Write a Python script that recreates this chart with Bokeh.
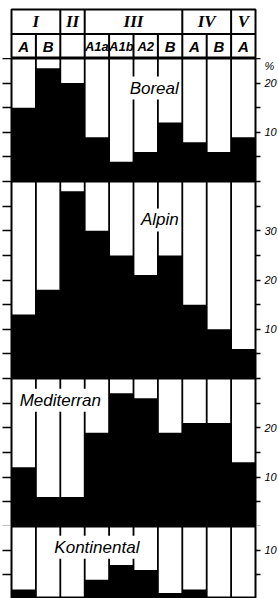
from bokeh.plotting import figure
from bokeh.layouts import column
from bokeh.models import Range1d, FixedTicker, LinearAxis, Label, ColumnDataSource
from bokeh.core.properties import value
from bokeh.embed import file_html
from bokeh.resources import INLINE

# ---- data ----
groups = ["I", "II", "III", "IV", "V"]
group_sizes = [2, 1, 4, 2, 1]
subcols = ["A", "B", "", "A1a", "A1b", "A2", "B", "A", "B", "A"]

boreal = [15, 23, 20, 9, 4, 6, 12, 8, 6, 9]
alpin = [13, 18, 38, 30, 25, 21, 25, 15, 10, 6]
mediterran = [12, 6, 6, 19, 27, 26, 19, 21, 21, 13]
kontinental = [2, 0, 0, 4, 7, 6, 1.3, 2, 0, 0]

panel_names = ["Boreal", "Alpin", "Mediterran", "Kontinental"]
panel_values = [boreal, alpin, mediterran, kontinental]
panel_ranges = [(0, 25), (0, 40), (0, 30), (0.2, 14.8)]
panel_heights = [123, 197, 148, 72]
label_pos = [(5.85, 19.0), (6.08, 32.2), (2.0, 25.6), (3.5, 10.6)]
tick_labels = [[10, 20], [10, 20, 30], [10, 20], [10]]
unit_label = "%"
unit_pos = 23.5

FW = 244
BL = 11
BR = 23
N = len(subcols)
xs = [i + 0.5 for i in range(N)]
inner_bounds = list(range(1, N))


def base_fig(yr, h, top=0):
    p = figure(x_range=Range1d(0, N), y_range=Range1d(*yr), frame_width=FW, frame_height=h,
               output_backend="svg", toolbar_location=None,
               min_border_left=BL, min_border_right=BR, min_border_top=top, min_border_bottom=0,
               x_axis_location=None, y_axis_location=None)
    p.grid.grid_line_color = None
    p.outline_line_color = "black"
    p.outline_line_width = 2
    p.background_fill_color = "white"
    p.border_fill_color = "white"
    return p


# ---- header ----
hdr = base_fig((0, 2), 49, top=9)
gb = []
acc = 0
gc = []
for s in group_sizes:
    gc.append(acc + s / 2)
    acc += s
    gb.append(acc)
group_bounds = gb[:-1]
sub_bounds = [b for b in inner_bounds if b not in group_bounds]
hdr.segment(x0=[0], y0=[1], x1=[N], y1=[1], line_color="black", line_width=2)
hdr.segment(x0=group_bounds, y0=[0] * len(group_bounds), x1=group_bounds, y1=[2] * len(group_bounds),
            line_color="black", line_width=2)
hdr.segment(x0=sub_bounds, y0=[0] * len(sub_bounds), x1=sub_bounds, y1=[1] * len(sub_bounds),
            line_color="black", line_width=2)
hdr.text(x=gc, y=[1.5] * len(gc), text=groups, text_align="center", text_baseline="middle",
         text_font=value("Liberation Serif"), text_font_style="bold italic", text_font_size="17px",
         text_color="black")
keep = [i for i, s in enumerate(subcols) if s]
hsrc = ColumnDataSource(dict(x=[xs[i] for i in keep], y=[0.5] * len(keep),
                             t=[subcols[i] for i in keep],
                             s=["13px" if len(subcols[i]) > 1 else "15px" for i in keep]))
hdr.text(x="x", y="y", text="t", text_font_size="s", source=hsrc, text_align="center",
         text_baseline="middle", text_font=value("Liberation Sans"), text_font_style="bold italic",
         text_color="black")
figs = [hdr]

# ---- panels ----
for name, vals, yr, h, (lx, ly), labs in zip(panel_names, panel_values, panel_ranges, panel_heights,
                                             label_pos, tick_labels):
    p = base_fig(yr, h)
    src = ColumnDataSource(dict(x=xs, top=vals))
    p.vbar(x="x", top="top", bottom=0, width=1, fill_color="black", line_color=None, source=src)
    p.segment(x0=inner_bounds, y0=[yr[0]] * len(inner_bounds), x1=inner_bounds, y1=[yr[1]] * len(inner_bounds),
              line_color="black", line_width=1.8)
    minor = [t for t in range(0, int(yr[1]) + 1, 5) if yr[0] <= t <= yr[1]]
    la = LinearAxis(ticker=FixedTicker(ticks=[], minor_ticks=minor), major_tick_out=0, major_tick_in=0,
                    minor_tick_out=9, minor_tick_in=0, minor_tick_line_width=1.5,
                    minor_tick_line_color="black",
                    major_label_standoff=0, axis_line_color=None)
    p.add_layout(la, "left")
    major = list(labs)
    overrides = {t: str(t) for t in labs}
    if name == "Boreal":
        major.append(unit_pos)
        overrides[unit_pos] = unit_label
    ra = LinearAxis(ticker=FixedTicker(ticks=major, minor_ticks=minor), major_label_overrides=overrides,
                    major_tick_out=0, major_tick_in=0, minor_tick_out=5, minor_tick_in=0,
                    minor_tick_line_width=1.5, minor_tick_line_color="black",
                    major_label_standoff=4, major_label_text_font="Liberation Sans",
                    major_label_text_font_style="italic", major_label_text_font_size="11px",
                    major_label_text_color="black",
                    axis_line_color=None)
    p.add_layout(ra, "right")
    p.add_layout(Label(x=lx, y=ly, text=name, text_align="center", text_baseline="middle",
                       text_font="Liberation Sans", text_font_style="italic", text_font_size="17px",
                       text_color="black", background_fill_color="white", padding=2))
    figs.append(p)

layout = column(*figs, spacing=0)
open("out.html", "w").write(file_html(layout, INLINE))
